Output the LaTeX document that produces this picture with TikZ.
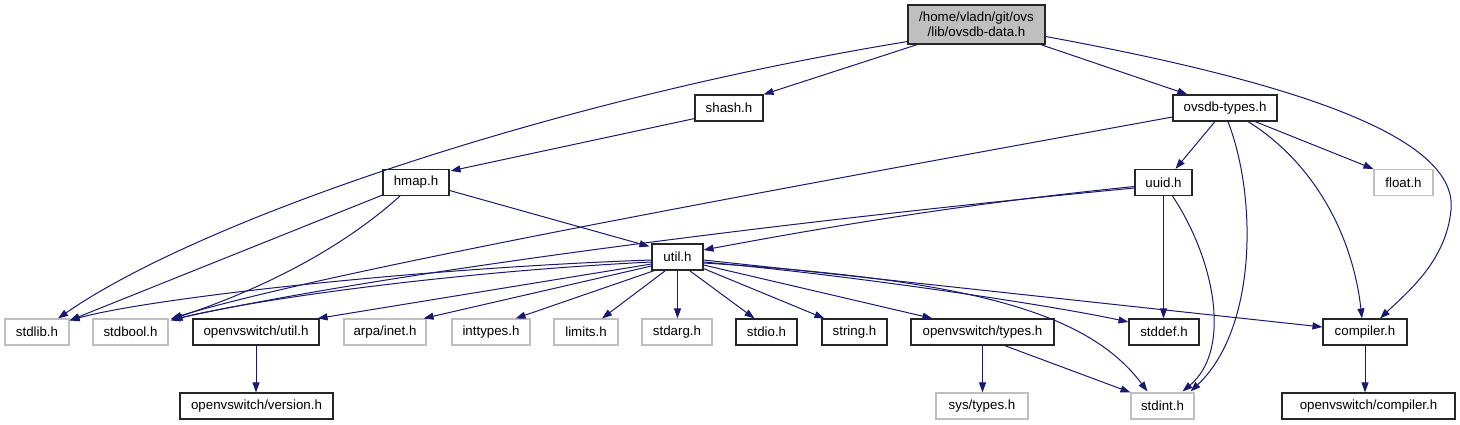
\documentclass[tikz,border=0pt]{standalone}
\usepackage{fontspec}
\setmainfont{Liberation Sans}
\usetikzlibrary{arrows.meta,calc}
\definecolor{edgec}{HTML}{191970}
\definecolor{grayb}{HTML}{BFBFBF}
\begin{document}
\begin{tikzpicture}[x=1pt,y=-1pt,
  box/.style={draw=black!85,line width=1.1pt,fill=white,inner sep=0pt,minimum height=26pt,font=\fontsize{13.3}{15}\selectfont},
  gbox/.style={box,draw=grayb},
  e/.style={draw=edgec,line width=1pt,-{Triangle[length=10pt,width=7pt]}}]
\useasboundingbox[fill=white] (0,0) rectangle (1460,425);
% nodes
\node[box,fill=grayb,minimum width=137pt,minimum height=39pt,align=center] (root) at (976.5,24.5) {/home/vladn/git/ovs\\/lib/ovsdb-data.h};
\node[box,minimum width=68pt] (shash) at (729,108) {shash.h};
\node[box,minimum width=104pt] (otypes) at (1225,108) {ovsdb-types.h};
\node[box,minimum width=66pt] (hmap) at (416,182.5) {hmap.h};
\node[box,minimum width=57pt] (uuid) at (1163.5,182.5) {uuid.h};
\node[gbox,minimum width=59pt] (float) at (1403.5,182.5) {float.h};
\node[box,minimum width=51pt] (util) at (677.5,257) {util.h};
\node[gbox,minimum width=64pt] (stdlib) at (37,332) {stdlib.h};
\node[gbox,minimum width=75pt] (stdbool) at (130.5,332) {stdbool.h};
\node[box,minimum width=126pt] (ovsutil) at (256,332) {openvswitch/util.h};
\node[gbox,minimum width=82pt] (arpa) at (385,332) {arpa/inet.h};
\node[gbox,minimum width=78pt] (inttypes) at (491,332) {inttypes.h};
\node[gbox,minimum width=64pt] (limits) at (586,332) {limits.h};
\node[gbox,minimum width=70pt] (stdarg) at (677,332) {stdarg.h};
\node[box,minimum width=61pt] (stdio) at (766.5,332) {stdio.h};
\node[box,minimum width=65pt] (string) at (854.5,332) {string.h};
\node[box,minimum width=143pt] (ovstypes) at (982.5,332) {openvswitch/types.h};
\node[box,minimum width=70pt] (stddef) at (1164,332) {stddef.h};
\node[box,minimum width=84pt] (compiler) at (1365,332) {compiler.h};
\node[box,minimum width=153pt] (ovsversion) at (256.5,406) {openvswitch/version.h};
\node[gbox,minimum width=92pt] (systypes) at (982,406) {sys/types.h};
\node[gbox,minimum width=63pt] (stdint) at (1162.5,406) {stdint.h};
\node[box,minimum width=173pt] (ovscompiler) at (1368.5,406) {openvswitch/compiler.h};
% edges from root
\draw[e] ($(root.south west)+(0,-3)$) .. controls (550,100) and (200,220) .. ($(stdlib.north)+(21,0)$);
\draw[e] ($(root.south west)+(10,0)$) -- (shash.north east);
\draw[e] ($(root.south east)+(-5,0)$) -- ($(otypes.north west)+(15,0)$);
\draw[e] ($(root.east)+(0,12)$) .. controls (1310,85) and (1458,140) .. (1451,210) .. controls (1446,260) and (1410,290) .. ($(compiler.north)+(15,0)$);
% shash
\draw[e] ($(shash.south west)+(0,-3)$) -- ($(hmap.north east)+(1,2)$);
% hmap
\draw[e] ($(hmap.south west)+(0,-1)$) -- ($(stdlib.north east)+(0,2)$);
\draw[e] ($(hmap.south)+(-16,0)$) .. controls (340,250) and (260,290) .. ($(stdbool.north east)+(2,1)$);
\draw[e] ($(hmap.east)+(0,8)$) -- ($(util.north west)+(-2,3)$);
% ovsdb-types
\draw[e] ($(otypes.west)+(0,9)$) .. controls (800,185) and (330,270) .. ($(stdbool.north east)+(3,0)$);
\draw[e] ($(otypes.south)+(-10,0)$) -- ($(uuid.north)+(12,0)$);
\draw[e] ($(otypes.south)+(3,0)$) .. controls (1258,200) and (1256,330) .. ($(stdint.north)+(28,-1)$);
\draw[e] ($(otypes.south)+(23,0)$) .. controls (1310,160) and (1352,230) .. ($(compiler.north)+(-3,0)$);
\draw[e] ($(otypes.south)+(30,0)$) -- (float.north west);
% uuid
\draw[e] ($(uuid.west)+(0,4)$) .. controls (950,205) and (800,232) .. ($(util.east)+(0,-7)$);
\draw[e] ($(uuid.west)+(0,5.5)$) .. controls (800,220) and (400,270) .. ($(stdbool.north east)+(4,1)$);
\draw[e] (uuid.south) -- (uuid.south |- stddef.north);
\draw[e] ($(uuid.south)+(9,0)$) .. controls (1215,260) and (1232,350) .. ($(stdint.north)+(20,-1)$);
% util
\draw[e] ($(util.west)+(0,3)$) .. controls (420,268) and (150,298) .. ($(stdlib.north east)+(0,2)$);
\draw[e] ($(util.west)+(0,5)$) .. controls (450,272) and (250,300) .. ($(stdbool.north east)+(2,2)$);
\draw[e] ($(util.west)+(0,7)$) -- ($(ovsutil.north east)+(-2,0)$);
\draw[e] ($(util.west)+(0,9)$) -- ($(arpa.north east)+(-3,0)$);
\draw[e] ($(util.south west)+(3,0)$) -- ($(inttypes.north east)+(-15,0)$);
\draw[e] ($(util.south)+(-12,0)$) -- ($(limits.north)+(16,0)$);
\draw[e] (util.south) -- (util.south |- stdarg.north);
\draw[e] ($(util.south)+(12,0)$) -- ($(stdio.north)+(-12,0)$);
\draw[e] ($(util.south east)+(0,-2)$) -- ($(string.north west)+(3,0)$);
\draw[e] ($(util.east)+(0,8)$) -- ($(ovstypes.north west)+(22,0)$);
\draw[e] ($(util.east)+(0,5)$) .. controls (850,275) and (1050,305) .. ($(stddef.west)+(0,-10)$);
\draw[e] ($(util.east)+(0,6)$) .. controls (980,280) and (1090,315) .. ($(stdint.north)+(-15,-1)$);
\draw[e] ($(util.east)+(0,3)$) -- ($(compiler.west)+(0,-5)$);
% lower
\draw[e] (ovsutil.south) -- (ovsutil.south |- ovsversion.north);
\draw[e] (ovstypes.south) -- (ovstypes.south |- systypes.north);
\draw[e] ($(ovstypes.south)+(22,0)$) -- (stdint.north west);
\draw[e] (compiler.south) -- (compiler.south |- ovscompiler.north);
\end{tikzpicture}
\end{document}
